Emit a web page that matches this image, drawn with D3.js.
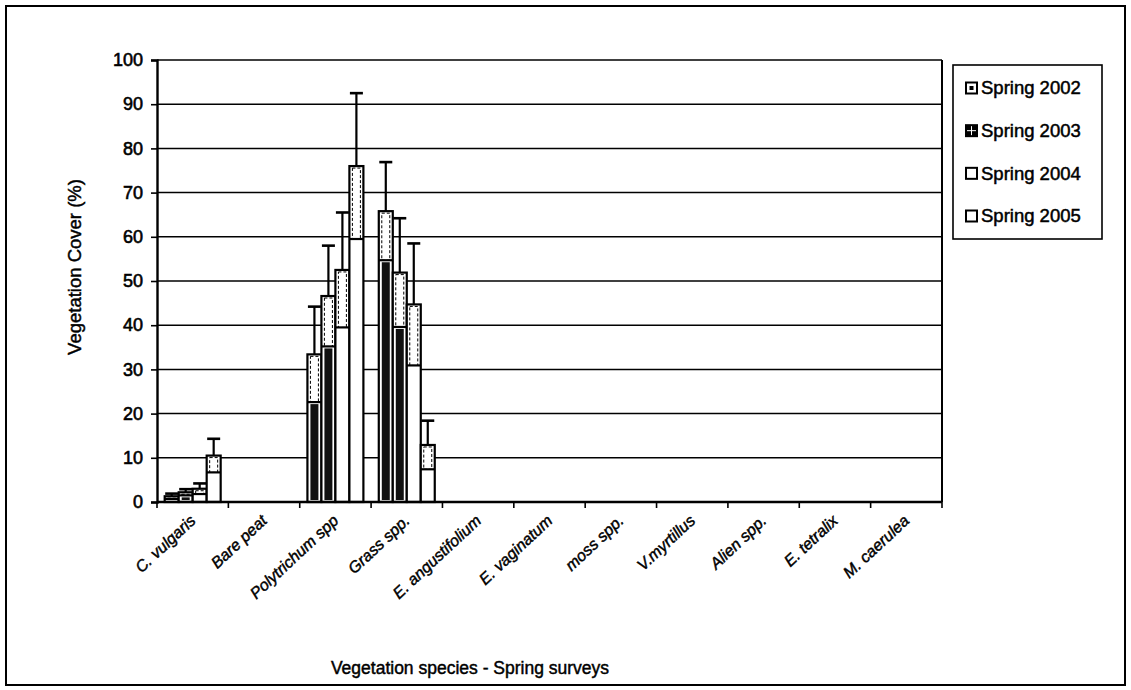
<!DOCTYPE html>
<html>
<head>
<meta charset="utf-8">
<script src="https://cdn.jsdelivr.net/npm/d3@7"></script>
<style>
  html, body { margin: 0; padding: 0; background: #fff; }
  svg { display: block; font-family: "Liberation Sans", Arial, sans-serif; }
  text { fill: #000; }
</style>
</head>
<body>
<svg id="chart" width="1131" height="690"></svg>
<script>
// Vegetation cover per species, spring surveys 2002-2005 (mean % with error)
const categories = ["C. vulgaris", "Bare peat", "Polytrichum spp", "Grass spp.",
  "E. angustifolium", "E. vaginatum", "moss spp.", "V.myrtillus",
  "Alien spp.", "E. tetralix", "M. caerulea"];
const seriesNames = ["Spring 2002", "Spring 2003", "Spring 2004", "Spring 2005"];

const cover2002 = [1.3, 0, 33.4, 65.8, 0, 0, 0, 0, 0, 0, 0];
const cover2003 = [2.2, 0, 46.6, 51.9, 0, 0, 0, 0, 0, 0, 0];
const cover2004 = [3.0, 0, 52.5, 44.7, 0, 0, 0, 0, 0, 0, 0];
const cover2005 = [10.5, 0, 76.0, 12.9, 0, 0, 0, 0, 0, 0, 0];

const err2002 = [0.6, 0, 10.8, 11.1, 0, 0, 0, 0, 0, 0, 0];
const err2003 = [0.7, 0, 11.4, 12.3, 0, 0, 0, 0, 0, 0, 0];
const err2004 = [1.2, 0, 13.0, 13.8, 0, 0, 0, 0, 0, 0, 0];
const err2005 = [3.8, 0, 16.5, 5.5, 0, 0, 0, 0, 0, 0, 0];

const yTicks = [0, 10, 20, 30, 40, 50, 60, 70, 80, 90, 100];

const values = [cover2002, cover2003, cover2004, cover2005];
const errors = [err2002, err2003, err2004, err2005];
const darkFill = [true, true, false, false];

const svg = d3.select("#chart");
const W = 1131, H = 690;
const plot = { left: 157, right: 942, top: 60, bottom: 502 };

// outer frame
svg.append("rect").attr("x", 6).attr("y", 6).attr("width", W - 12).attr("height", H - 11)
  .attr("fill", "none").attr("stroke", "#000").attr("stroke-width", 2);

const x0 = d3.scaleBand().domain(categories).range([plot.left, plot.right]).padding(0);
const x1 = d3.scaleBand().domain(seriesNames).range([0, x0.bandwidth()])
  .paddingInner(0).paddingOuter(0.55);
const y = d3.scaleLinear().domain([0, 100]).range([plot.bottom, plot.top]);

// gridlines
svg.append("g").selectAll("line").data(yTicks.filter(t => t > 0)).join("line")
  .attr("x1", plot.left).attr("x2", plot.right)
  .attr("y1", d => y(d)).attr("y2", d => y(d))
  .attr("stroke", "#000").attr("stroke-width", 1.5);

// plot border (right side)
svg.append("line").attr("x1", plot.right).attr("x2", plot.right)
  .attr("y1", plot.top).attr("y2", plot.bottom)
  .attr("stroke", "#000").attr("stroke-width", 2);

// y axis
const yAxis = svg.append("g").attr("transform", `translate(${plot.left},0)`)
  .call(d3.axisLeft(y).tickValues(yTicks).tickSize(6).tickPadding(8));
yAxis.select(".domain").attr("stroke-width", 2.4);
yAxis.selectAll(".tick line").attr("stroke-width", 1.6);
yAxis.selectAll("text").attr("font-size", 18).attr("fill", "#000")
  .attr("stroke", "#000").attr("stroke-width", 0.6)
  .attr("font-family", "Liberation Sans, Arial, sans-serif");

// bars
const bars = svg.append("g");
seriesNames.forEach((s, si) => {
  const g = bars.append("g");
  categories.forEach((c, ci) => {
    const v = values[si][ci];
    const e = errors[si][ci];
    const bx = x0(c) + x1(s);
    const bw = x1.bandwidth();
    const lo = Math.max(0, v - e);
    // bar body
    g.append("rect").attr("x", bx).attr("y", y(v)).attr("width", bw)
      .attr("height", y(0) - y(v)).attr("fill", "#fff")
      .attr("stroke", "#000").attr("stroke-width", 2.2);
    if (v <= 0) return;
    // dense pattern fill below the lower error limit
    if (darkFill[si] && lo > 0) {
      g.append("rect").attr("x", bx + 3).attr("y", y(lo) + 2).attr("width", bw - 6)
        .attr("height", Math.max(0, y(0) - y(lo) - 4)).attr("fill", "#111");
    }
    if (e > 0) {
      // lower error section inside the bar
      g.append("rect").attr("x", bx + 3).attr("y", y(v) + 2).attr("width", bw - 6)
        .attr("height", Math.max(0, y(lo) - y(v) - 2)).attr("fill", "none")
        .attr("stroke", "#000").attr("stroke-width", 1).attr("stroke-dasharray", "3,2");
      g.append("line").attr("x1", bx).attr("x2", bx + bw)
        .attr("y1", y(lo)).attr("y2", y(lo))
        .attr("stroke", "#000").attr("stroke-width", 2.2);
      // upper error whisker and cap
      const cx = bx + bw / 2;
      g.append("line").attr("x1", cx).attr("x2", cx)
        .attr("y1", y(v)).attr("y2", y(v + e))
        .attr("stroke", "#000").attr("stroke-width", 2.2);
      g.append("line").attr("x1", cx - 6.5).attr("x2", cx + 6.5)
        .attr("y1", y(v + e)).attr("y2", y(v + e))
        .attr("stroke", "#000").attr("stroke-width", 2.6);
    }
  });
});

// x axis line and category ticks at band edges
svg.append("line").attr("x1", plot.left).attr("x2", plot.right)
  .attr("y1", plot.bottom).attr("y2", plot.bottom)
  .attr("stroke", "#000").attr("stroke-width", 2.4);
const edges = categories.map(c => x0(c)).concat([plot.right]);
svg.append("g").selectAll("line").data(edges).join("line")
  .attr("x1", d => d).attr("x2", d => d)
  .attr("y1", plot.bottom).attr("y2", plot.bottom + 6)
  .attr("stroke", "#000").attr("stroke-width", 1.6);

// category labels
svg.append("g").selectAll("text").data(categories).join("text")
  .attr("transform", d => `translate(${x0(d) + x0.bandwidth() / 2 + 4},${plot.bottom + 20}) rotate(-43)`)
  .attr("text-anchor", "end")
  .attr("font-size", 16).attr("font-style", "italic")
  .attr("stroke", "#000").attr("stroke-width", 0.45)
  .text(d => d);

// axis titles
svg.append("text").attr("x", 470).attr("y", 674).attr("text-anchor", "middle")
  .attr("font-size", 17.5).attr("stroke", "#000").attr("stroke-width", 0.45)
  .text("Vegetation species - Spring surveys");
svg.append("text").attr("transform", `translate(81,${(plot.top + plot.bottom) / 2 - 14}) rotate(-90)`)
  .attr("text-anchor", "middle")
  .attr("font-size", 18.5).attr("stroke", "#000").attr("stroke-width", 0.45)
  .text("Vegetation Cover (%)");

// legend
const leg = svg.append("g");
leg.append("rect").attr("x", 953).attr("y", 65).attr("width", 149).attr("height", 174)
  .attr("fill", "#fff").attr("stroke", "#000").attr("stroke-width", 1.6);
const legY = d3.scalePoint().domain(seriesNames).range([88, 216]);
seriesNames.forEach((s, si) => {
  const cy = legY(s);
  const sx = 966, sz = 11;
  leg.append("rect").attr("x", sx).attr("y", cy - sz / 2).attr("width", sz).attr("height", sz)
    .attr("fill", si === 1 ? "#000" : "#fff").attr("stroke", "#000").attr("stroke-width", 2);
  if (si === 0) {
    leg.append("rect").attr("x", sx + 3.5).attr("y", cy - 2).attr("width", 4).attr("height", 4).attr("fill", "#000");
  }
  if (si === 1) {
    leg.append("line").attr("x1", sx + sz / 2).attr("x2", sx + sz / 2).attr("y1", cy - sz / 2 + 1).attr("y2", cy + sz / 2 - 1)
      .attr("stroke", "#fff").attr("stroke-width", 1);
    leg.append("line").attr("x1", sx + 1).attr("x2", sx + sz - 1).attr("y1", cy).attr("y2", cy)
      .attr("stroke", "#fff").attr("stroke-width", 1);
  }
  leg.append("text").attr("x", 981).attr("y", cy).attr("dy", "0.35em")
    .attr("font-size", 18.5).attr("stroke", "#000").attr("stroke-width", 0.5)
    .text(s);
});
</script>
</body>
</html>
